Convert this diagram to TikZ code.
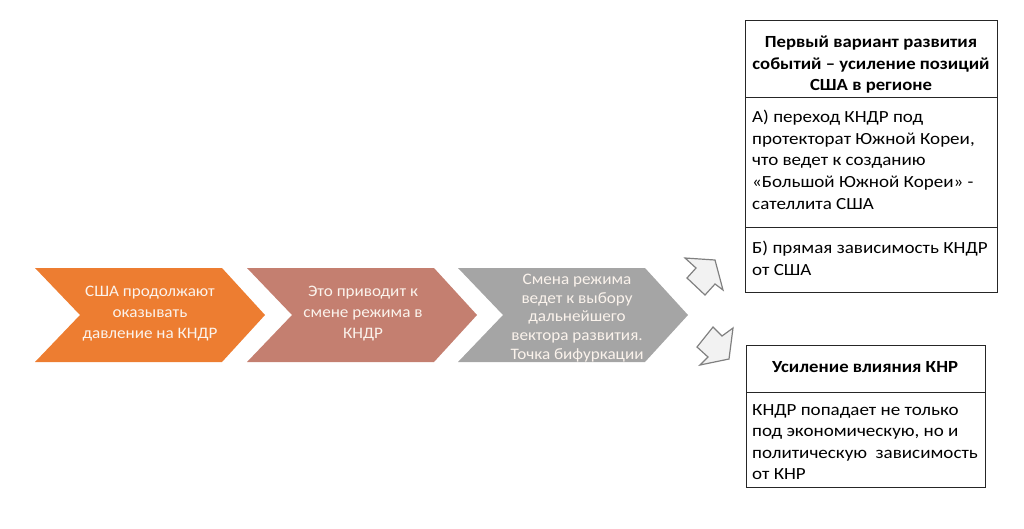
\documentclass[tikz,border=0pt]{standalone}
\usepackage{fontspec}
\setmainfont{Carlito}
\newfontfamily\chevfont[FakeStretch=1.07]{Carlito}
\newfontfamily\boxfont[FakeStretch=1.12]{Carlito}
\newfontfamily\headfont[FakeStretch=1.10]{Carlito}
\definecolor{chorange}{HTML}{ED7D31}
\definecolor{chbrown}{HTML}{C47F70}
\definecolor{chgray}{HTML}{A5A5A5}
\definecolor{chtext}{HTML}{FBF3EC}
\definecolor{arrfill}{HTML}{F2F2F2}
\definecolor{arrline}{HTML}{808080}
\definecolor{boxline}{HTML}{262626}
\tikzset{
  chevtext/.style={text=chtext, align=center, inner sep=0pt, font=\chevfont\fontsize{16}{21}\selectfont},
  boxframe/.style={draw=boxline, line width=1pt},
  headtext/.style={align=center, inner sep=0pt, font=\headfont\fontsize{17}{21.5}\selectfont\bfseries},
  bodytext/.style={align=left, inner sep=0pt, anchor=north west, font=\boxfont\fontsize{17}{21.6}\selectfont},
  blockarrow/.style={draw=arrline, fill=arrfill, line width=1.2pt, line join=miter},
}
\newcommand{\chevshape}[2]{%
  \fill[#2] (#1,268) -- ++(187,0) -- ++(43,47) -- ++(-43,47) -- ++(-187,0) -- ++(45,-47) -- cycle;}
\begin{document}
\begin{tikzpicture}[x=1pt,y=-1pt]
\useasboundingbox (0,0) rectangle (1024,528);
% chevrons
\chevshape{35}{chorange}
\chevshape{247}{chbrown}
\chevshape{458}{chgray}
\node[chevtext] (c1) at (150,314) {США продолжают\\оказывать\\давление на КНДР};
\node[chevtext] (c2) at (363,314) {Это приводит к\\смене режима в\\КНДР};
\node[chevtext, font=\chevfont\fontsize{16}{18.7}\selectfont] (c3) at (577,318) {Смена режима\\ведет к выбору\\дальнейшего\\вектора развития.\\Точка бифуркации};
% block arrows
\draw[blockarrow] (715,260) -- (723,290) -- (715,284) -- (705,295) -- (687,278) -- (696,268) -- (685,258) -- cycle;
\draw[blockarrow] (729,359) -- (700,365) -- (708,357) -- (697,347) -- (713,327) -- (722,336) -- (733,328) -- cycle;
% top box
\node[boxframe, minimum width=252pt, minimum height=272pt, anchor=north west, inner sep=0pt] (boxA) at (745,20) {};
\draw[boxframe] (745,97) -- (998,97);
\draw[boxframe] (745,227) -- (997,227);
\node[headtext] (hA) at (871,65) {Первый вариант развития\\событий – усиление позиций\\США в регионе};
\node[bodytext] (tA) at (752,110) {А) переход КНДР под\\протекторат Южной Кореи,\\что ведет к созданию\\«Большой Южной Кореи» -\\сателлита США};
\node[bodytext] (tB) at (752,241) {Б) прямая зависимость КНДР\\от США};
% bottom box
\node[boxframe, minimum width=239pt, minimum height=142pt, anchor=north west, inner sep=0pt] (boxB) at (746,345) {};
\draw[boxframe] (746,392) -- (985,392);
\node[headtext] (hB) at (865,367) {Усиление влияния КНР};
\node[bodytext] (tC) at (752,404) {КНДР попадает не только\\под экономическую, но и\\политическую\hspace{0.5em}зависимость\\от КНР};
\end{tikzpicture}
\end{document}
